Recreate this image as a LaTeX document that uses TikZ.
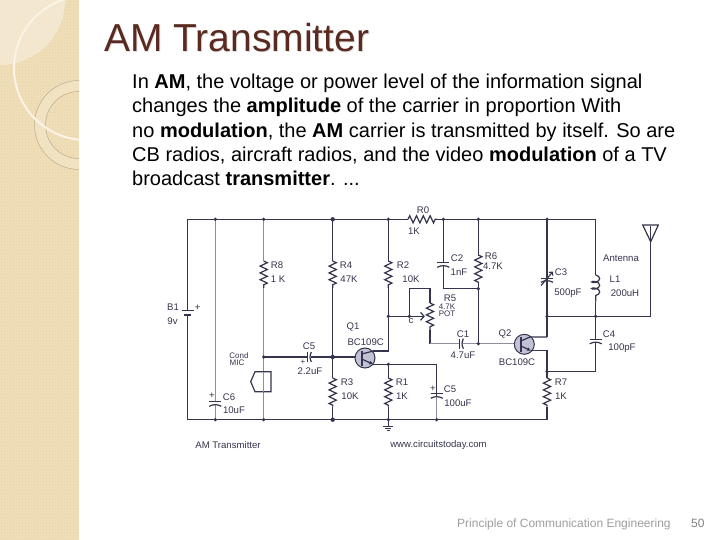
\documentclass[tikz,border=0pt]{standalone}
\usepackage{fontspec}
\setmainfont{Liberation Sans}
\usetikzlibrary{decorations.pathmorphing,arrows.meta,calc,patterns}
\definecolor{wirec}{HTML}{34344C}
\definecolor{thinc}{HTML}{8E8EA0}
\definecolor{strip}{HTML}{F0DFBA}
\definecolor{stripd}{HTML}{E6D09F}
\definecolor{stripl}{HTML}{F3E7CF}
\definecolor{ringc}{HTML}{F1E2C2}
\definecolor{titlec}{HTML}{5A2A20}
\tikzset{
  wire/.style={draw=wirec,line width=1.2pt},
  thin wire/.style={draw=thinc,line width=0.8pt},
  resist/.style={wire,decorate,decoration={zigzag,amplitude=3.6pt,segment length=6.8pt}},
  inductor/.style={wire,decorate,decoration={coil,aspect=0.5,amplitude=4pt,segment length=6.6pt}},
  lab/.style={font=\fontsize{9.6}{9.6}\selectfont,text=wirec,inner sep=0pt},
  tinylab/.style={font=\fontsize{8}{8}\selectfont,text=wirec,inner sep=0pt},
  body/.style={font=\fontsize{20}{20}\selectfont,text=black,anchor=base west,inner sep=0pt},
  dot/.style={circle,fill=wirec,inner sep=0pt,minimum size=3.6pt},
  bigdot/.style={circle,fill=wirec,inner sep=0pt,minimum size=4.4pt},
  bjt/.style={circle,fill=blue!20!gray!40,draw=wirec,line width=1pt,minimum size=20pt,inner sep=0pt},
}
\newcommand{\capflat}[3][wire]{%
  \draw[#1] (#2)+(-6,-1.8) -- +(6,-1.8);
  \draw[#1] (#2)+(-6,2.8) to[bend #3=28] +(6,2.8);}
\newcommand{\caph}[1]{%
  \draw[wire] (#1)+(-1.8,-5) -- +(-1.8,5);
  \draw[wire] (#1)+(2.4,-5) to[bend right=28] +(2.4,5);}
\begin{document}
\begin{tikzpicture}[x=1pt,y=-1pt]
\useasboundingbox (0,0) rectangle (720,540);
\fill[white] (0,0) rectangle (720,540);
% decorated side strip
\begin{scope}
\clip (0,0) rectangle (79,540);
\fill[strip] (0,0) rectangle (79,540);
\fill[pattern=crosshatch dots,pattern color=stripd] (0,0) rectangle (79,540);
\fill[stripl] (0,0) circle[radius=65];
\draw[draw=ringc,line width=10pt] (79,125) circle[radius=39];
\draw[draw=black!22!strip,line width=0.5pt] (79,125) circle[radius=44.5];
\draw[draw=black!22!strip,line width=0.5pt] (79,125) circle[radius=33.5];
\draw[draw=white!65!strip,line width=2pt] (86,68) circle[radius=72];
\end{scope}
% texts
\node[font=\fontsize{39}{39}\selectfont,text=black!12,anchor=base west,inner sep=0pt] (titleshadow) at (105,52.8) {AM Transmitter};
\node[font=\fontsize{39}{39}\selectfont,text=titlec,anchor=base west,inner sep=0pt] (title) at (104,52) {AM Transmitter};
\node[body] (l1) at (132,89) {In \textbf{AM}, the voltage or power level of the information signal};
\node[body] (l2) at (132,113) {changes the \textbf{amplitude} of the carrier in proportion With};
\node[body] (l3) at (132,138) {no \textbf{modulation}, the \textbf{AM} carrier is transmitted by itself. So are};
\node[body] (l4) at (132,162) {CB radios, aircraft radios, and the video \textbf{modulation} of a TV};
\node[body] (l5) at (132,186) {broadcast \textbf{transmitter}. ...};
\node[font=\fontsize{12}{12}\selectfont,text=black!38,anchor=base west,inner sep=0pt] (foot) at (457,527) {Principle of Communication Engineering};
\node[font=\fontsize{12}{12}\selectfont,text=black!50,anchor=base west,inner sep=0pt] (page) at (691,527) {50};
% coordinates
\foreach \n/\x in {a/187.7,b/215.3,c/263.7,d/332.7,e/388.3,f/443.3,g/478.3,h/547,i/595.7}{
  \coordinate (t\n) at (\x,219.3);}
\foreach \n/\x in {a/187.7,b/215.3,c/263.7,d/332.7,e/388.3,j/436.7,h/547}{
  \coordinate (u\n) at (\x,419.7);}
\coordinate (r0a) at (408,219.3); \coordinate (r0b) at (437,219.3);
\coordinate (b1) at (187.7,312.5);
\coordinate (c6) at (215.3,403.5);
\coordinate (r8a) at (263.7,261); \coordinate (r8b) at (263.7,288);
\coordinate (r4a) at (332.7,261); \coordinate (r4b) at (332.7,288);
\coordinate (r2a) at (388.3,261); \coordinate (r2b) at (388.3,288);
\coordinate (jm) at (263.7,357); \coordinate (jb) at (332.7,357);
\coordinate (c5p) at (309,357);
\coordinate (r3a) at (332.7,378); \coordinate (r3b) at (332.7,406.7);
\coordinate (r1a) at (388.3,378); \coordinate (r1b) at (388.3,406.7);
\coordinate (micT) at (263.7,371.7); \coordinate (micB) at (263.7,391.7);
\coordinate (q1c) at (388.3,351); \coordinate (q1cc) at (373.3,351);
\coordinate (q1e) at (388.3,364.3); \coordinate (q1ee) at (373.3,364.3);
\coordinate (q1b) at (361.7,357);
\coordinate (jc) at (388.3,316.3); \coordinate (cw) at (409.3,316.3);
\coordinate (wip) at (424,316.3);
\coordinate (wt1) at (409.3,288.7); \coordinate (wt2) at (430,288.7);
\coordinate (r5a) at (430,303); \coordinate (r5b) at (430,330);
\coordinate (r5c) at (430,343.7); \coordinate (c1p) at (461,343.7);
\coordinate (jq) at (478.3,343.7); \coordinate (q2b) at (521,343.7);
\coordinate (j6) at (478.3,288.7); \coordinate (c2b) at (443.3,288.7);
\coordinate (c2p) at (443.3,264.5);
\coordinate (r6a) at (478.3,255); \coordinate (r6b) at (478.3,283);
\coordinate (jh) at (547,316.3); \coordinate (ji) at (595.7,316.3);
\coordinate (ant) at (650.7,316.3); \coordinate (anttop) at (650.7,226);
\coordinate (c3p) at (547,279.5);
\coordinate (l1a) at (595.7,275); \coordinate (l1b) at (595.7,301.7);
\coordinate (c4p) at (595.7,341);
\coordinate (c4l) at (595.7,371.7); \coordinate (je) at (547,371.7);
\coordinate (q2c) at (547,337); \coordinate (q2cc) at (530,337);
\coordinate (q2e) at (547,350.7); \coordinate (q2ee) at (531,350.7);
\coordinate (r7a) at (547,378); \coordinate (r7b) at (547,406.7);
\coordinate (c5r) at (436.7,395.5); \coordinate (jem) at (436.7,364.3);
\coordinate (gnd) at (388.3,426.7);
% rails
\draw[wire] (ta) -- (r0a);
\draw[resist] (r0a) -- (r0b);
\draw[wire] (r0b) -- (ti) -- (l1a);
\draw[inductor] (l1a) -- (l1b);
\draw[wire] (l1b) -- (ji);
\draw[wire] (ta) -- (ua) -- (uh) -- (r7b);
% battery (gap)
\fill[white] (181,310.5) rectangle (194,315.5);
\draw[wire] (b1)+(-6,-1.8) -- +(6,-1.8);
\draw[wire,line width=1.6pt] (b1)+(-3.5,2.6) -- +(3.5,2.6);
% C6
\draw[thin wire] (tb) -- ($(c6)+(0,-1.8)$);
\draw[thin wire] ($(c6)+(0,1.5)$) -- (ub);
\capflat{c6}{left}
% R8 and mic
\draw[thin wire] (tc) -- (r8a);
\draw[resist] (r8a) -- (r8b);
\draw[thin wire] (r8b) -- (jm) -- (micT);
\draw[thin wire] (micT) -- (micB) -- (uc);
\draw[wire] (255,371.7) -- (250.7,381.7) -- (255,391.7) -- (271,391.7) -- (271,371.7) -- cycle;
\draw[thin wire] (micT) -- (micB);
% R4 R3
\draw[wire,line width=1.4pt] (td) -- (r4a);
\draw[resist] (r4a) -- (r4b);
\draw[wire] (r4b) -- (jb) -- (r3a);
\draw[resist] (r3a) -- (r3b);
\draw[wire] (r3b) -- (ud);
% input line and C5
\draw[wire] (jm) -- ($(c5p)+(-1.8,0)$);
\draw[wire] ($(c5p)+(2,0)$) -- (jb) -- (q1b);
\caph{c5p}
% R2
\draw[wire] (te) -- (r2a);
\draw[resist] (r2a) -- (r2b);
\draw[wire] (r2b) -- (jc) -- (q1c) -- (q1cc);
% Q1
\node[bjt] (q1) at (365,358) {};
\draw[wire,line width=1.8pt] (361.7,350.5) -- (361.7,365.5);
\draw[wire] (q1b) -- (361.7,357);
\draw[wire] (361.7,354) -- (q1cc);
\draw[wire,-{Latex[length=4pt,width=4pt]}] (361.7,359) -- (q1ee);
\draw[wire] (q1ee) -- (jem) -- (c5r);
\draw[wire] (q1e) -- (r1a);
\draw[resist] (r1a) -- (r1b);
\draw[wire] (r1b) -- (ue) -- (gnd);
\draw[wire] ($(gnd)+(-5,0)$) -- ($(gnd)+(5,0)$);
\draw[wire] ($(gnd)+(-3,2)$) -- ($(gnd)+(3,2)$);
\draw[wire] ($(gnd)+(-1.2,4)$) -- ($(gnd)+(1.2,4)$);
\capflat{c5r}{left}
\draw[thin wire] ($(c5r)+(0,1.5)$) -- (uj);
% pot
\draw[wire] (jc) -- (cw) -- (wt1) -- (wt2) -- (r5a);
\draw[wire] (cw) -- (wip);
\draw[wire] ($(wip)+(-3.5,-4)$) -- (wip) -- ($(wip)+(-3.5,4)$);
\draw[resist] (r5a) -- (r5b);
\draw[wire] (r5b) -- (r5c);
\draw[thin wire] (r5c) -- ($(c1p)+(-1.8,0)$);
\draw[thin wire] ($(c1p)+(2,0)$) -- (jq) -- (q2b);
\caph{c1p}
% C2 R6
\draw[wire] (tf) -- ($(c2p)+(0,-1.8)$);
\draw[wire] ($(c2p)+(0,1.5)$) -- (c2b) -- (j6);
\capflat{c2p}{left}
\draw[wire] (tg) -- (r6a);
\draw[resist] (r6a) -- (r6b);
\draw[wire] (r6b) -- (j6) -- (jq);
% C3 and antenna
\draw[wire] (th) -- (jh);
\draw[wire] (c3p)+(-6,-1.2) -- +(6,-1.2);
\draw[wire] (c3p)+(-6,2.8) to[bend left=28] +(6,2.8);
\draw[wire,-{Straight Barb[length=2.5pt]}] ($(c3p)+(-6,6)$) -- ($(c3p)+(6,-8)$);
\draw[wire] (q2c) -- (jh) -- (ant) -- (anttop);
\draw[wire] (642.7,225) -- (658.3,225) -- (650.7,241.7) -- cycle;
% C4
\draw[wire] (ji) -- ($(c4p)+(0,-1.8)$);
\draw[wire] ($(c4p)+(0,1.5)$) -- (c4l) -- (je);
\capflat{c4p}{left}
% Q2
\node[bjt] (q2) at (524.3,344.3) {};
\draw[wire,line width=1.8pt] (521,337) -- (521,351.5);
\draw[wire] (521,341) -- (q2cc) -- (q2c);
\draw[wire,-{Latex[length=4pt,width=4pt]}] (521,346) -- (q2ee);
\draw[wire] (q2ee) -- (q2e) -- (r7a);
\draw[resist] (r7a) -- (r7b);
% dots
\foreach \p in {tb,tc,te,tf,tg,th,ub,uc,ue,uj,jm,jc,cw,j6,jh,ji,je,q1e,jq}{\node[dot] at (\p) {};}
\foreach \p in {td,ud,jb}{\node[bigdot] at (\p) {};}
% labels
\foreach \n/\x/\y/\t in {
 lr0/423/210/R0, lr0v/414/231/1K,
 lb1/173/307/B1, lb1v/172.5/321/9v, lb1p/197.7/308/+,
 lc6/229/397/C6, lc6v/234/410/10uF, lc6p/212/396/+,
 lr8/277/265/R8, lr8v/278/279.5/1 K,
 lr4/346/265/R4, lr4v/349/279.5/47K,
 lr2/403/265/R2, lr2v/411/279.5/10K,
 lr3/347/382/R3, lr3v/350/396/10K,
 lr1/402/382/R1, lr1v/402/396/1K,
 lc5/309/346/C5, lc5v/310/371/2.2uF,
 lq1/353/327/Q1, lq1v/365.7/341.7/BC109C,
 lr5/450/298.5/R5, lcw/411/320.5/c,
 lc2/457/258/C2, lc2v/459/272/1nF,
 lr6/491/256/R6, lr6v/493/266/4.7K,
 lc1/463/334/C1, lc1v/463/355/4.7uF,
 lq2/505/334/Q2, lq2v/517/362/BC109C,
 lc3/561/272/C3, lc3v/568/293/500pF,
 lant/621/258/Antenna, ll1/615/279/L1, ll1v/625/293/200uH,
 lc4/609/334/C4, lc4v/622/348/100pF,
 lr7/561/382/R7, lr7v/561/396/1K,
 lc5b/450/389/C5, lc5bv/458/403/100uF, lc5bp/433/389/+,
 lam/228/445/AM Transmitter, lweb/438.5/445/www.circuitstoday.com}{
 \node[lab] (\n) at (\x,\y) {\t};}
\node[tinylab] (lcd) at (239,355.5) {Cond};
\node[tinylab] (lmic) at (237,362.8) {MIC};
\node[tinylab] (lr5v) at (447,306.3) {4.7K};
\node[tinylab] (lr5t) at (447,313.6) {POT};
\node[tinylab] (lc5p) at (303,362) {+};
\end{tikzpicture}
\end{document}
